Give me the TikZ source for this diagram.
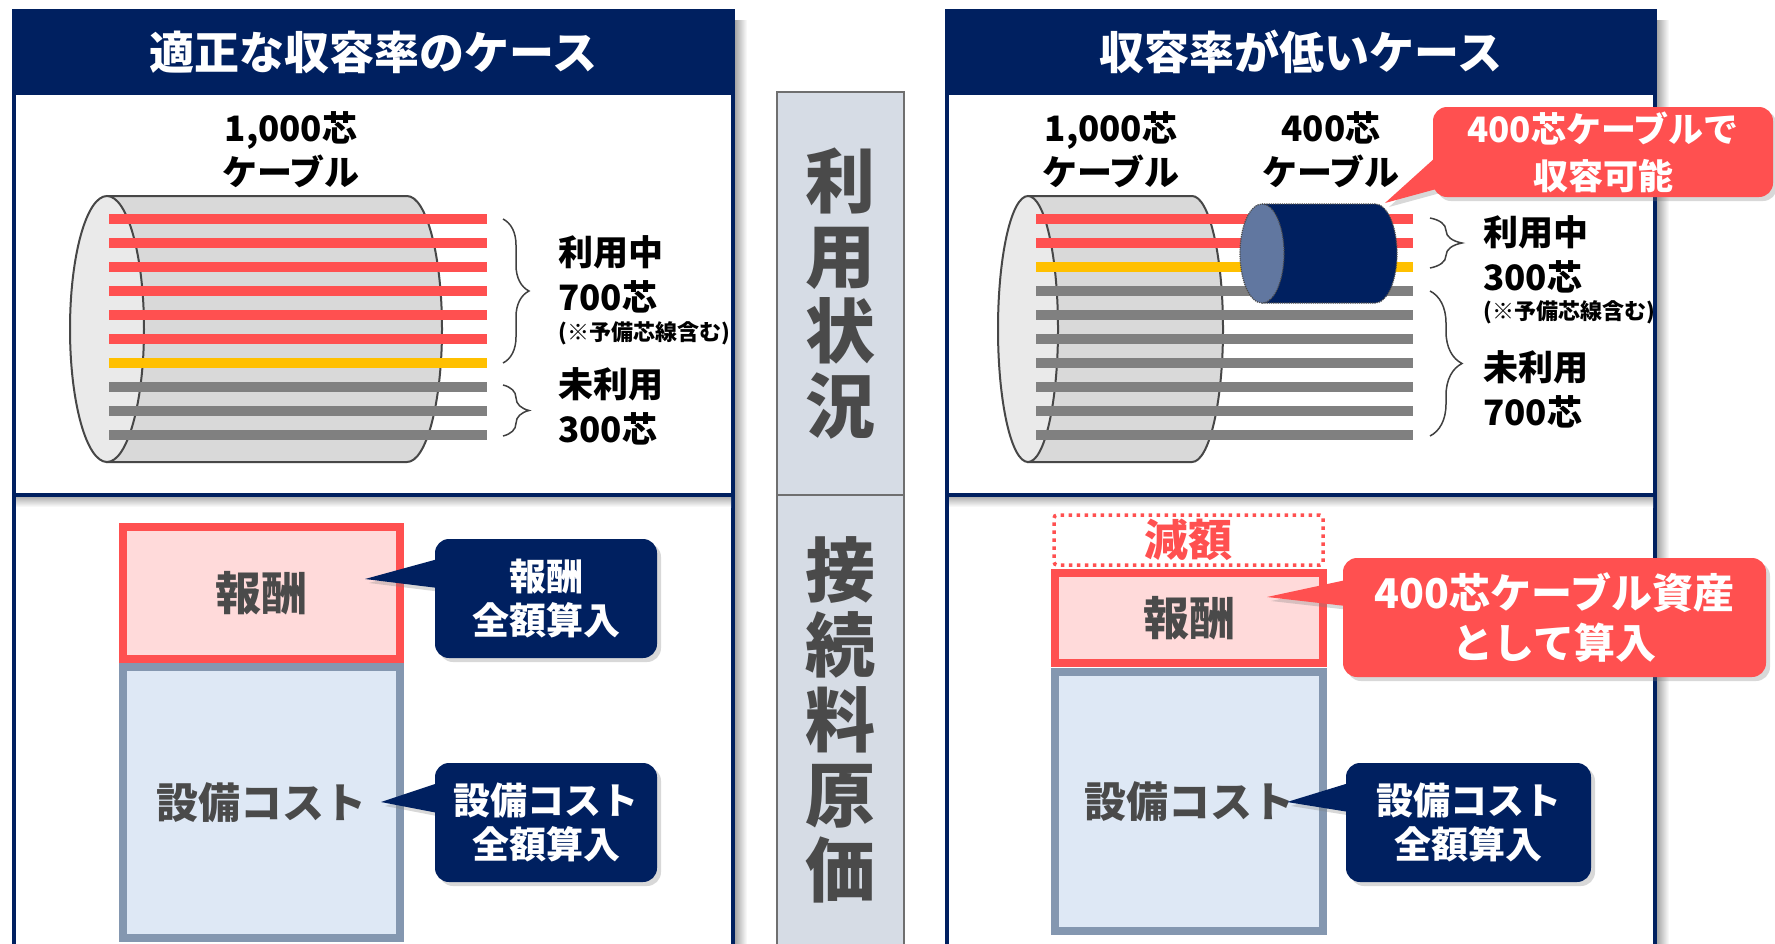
\documentclass[tikz,border=0pt]{standalone}
\usepackage{fontspec}
\setmainfont{Noto Sans CJK JP}
\usetikzlibrary{calc,shadows,decorations.pathreplacing}
\definecolor{panelnavy}{HTML}{002060}
\definecolor{alertred}{HTML}{FF5050}
\definecolor{rewardpink}{HTML}{FFDADA}
\definecolor{costblue}{HTML}{DEE8F5}
\definecolor{costedge}{HTML}{8497B0}
\definecolor{sparegold}{HTML}{FFC000}
\definecolor{idlegray}{HTML}{808080}
\definecolor{colfill}{HTML}{D6DCE5}
\definecolor{coledge}{HTML}{6F6F6F}
\definecolor{inkgray}{HTML}{4A4A4A}
\definecolor{sheathlight}{HTML}{EAEAEA}
\definecolor{sheathdark}{HTML}{D9D9D9}
\definecolor{sheathedge}{HTML}{474747}
\definecolor{facesteel}{HTML}{6177A0}

\begin{document}
\begin{tikzpicture}[
  x=1pt, y=-1pt,
  font=\bfseries,
  panelframe/.style={draw=panelnavy, line width=4pt, fill=white},
  paneltitle/.style={
    fill=panelnavy, text=white, inner sep=0pt,
    minimum width=723pt, minimum height=86pt,
    font=\fontsize{45pt}{50pt}\selectfont\bfseries
  },
  sidebar/.style={
    fill=colfill, draw=coledge, line width=2.5pt,
    minimum width=127pt, inner sep=0pt, align=center, text=inkgray,
    font=\fontsize{70pt}{75pt}\selectfont\bfseries
  },
  cablelabel/.style={align=center, inner sep=0pt, font=\fontsize{35pt}{44pt}\selectfont\bfseries},
  countlabel/.style={anchor=west, align=left, inner sep=0pt, font=\fontsize{35pt}{45pt}\selectfont\bfseries},
  notelabel/.style={anchor=west, inner sep=0pt, font=\fontsize{22pt}{26pt}\selectfont\bfseries},
  core/.style={line width=9.3pt},
  sheath/.style={draw=sheathedge, line width=2pt},
  bracket/.style={decorate, decoration={brace, amplitude=#1}, draw=black!75, line width=1.5pt},
  rewardbox/.style={
    fill=rewardpink, draw=alertred, line width=8pt, inner sep=0pt, text=inkgray,
    font=\fontsize{46pt}{50pt}\selectfont\bfseries
  },
  costbox/.style={
    fill=costblue, draw=costedge, line width=8pt, inner sep=0pt, text=inkgray,
    font=\fontsize{42pt}{46pt}\selectfont\bfseries
  },
  cutbox/.style={
    draw=alertred, line width=3.5pt, dash pattern=on 3.5pt off 4.5pt,
    rounded corners=3pt, inner sep=0pt, text=alertred,
    font=\fontsize{44pt}{48pt}\selectfont\bfseries
  },
  calloutshadow/.style={drop shadow={opacity=0.3, shadow xshift=4pt, shadow yshift=-4pt}},
  navycallout/.style={
    fill=panelnavy, text=white, rounded corners=14pt, align=center,
    inner sep=0pt, minimum height=119pt, calloutshadow,
    font=\fontsize{37pt}{44pt}\selectfont\bfseries
  },
  redcallout/.style={
    fill=alertred, text=white, rounded corners=14pt, align=center,
    inner sep=0pt, calloutshadow
  }
]
\useasboundingbox (0,0) rectangle (1775,943);
\fill[white] (0,0) rectangle (1775,943);

% --- panel frames ---
\shade[left color=black!35, right color=white] (735,20) rectangle (747,943);
\shade[left color=black!35, right color=white] (1657,20) rectangle (1669,943);
\draw[panelframe] (14,11) rectangle (733,990);
\draw[panelframe] (947,11) rectangle (1655,990);
\node[paneltitle] (lhead) at (373.5,52) {適正な収容率のケース};
\node[paneltitle, minimum width=712pt] (rhead) at (1301,52) {収容率が低いケース};

% section dividers
\shade[top color=black!30, bottom color=white] (16,497) rectangle (731,507);
\shade[top color=black!30, bottom color=white] (949,497) rectangle (1653,507);
\draw[panelnavy, line width=4pt] (14,495) -- (733,495);
\draw[panelnavy, line width=4pt] (947,495) -- (1655,495);

% --- middle column ---
\node[sidebar, minimum height=403pt] (usage) at (840.5,293.5) {利\\用\\状\\況};
\node[sidebar, minimum height=450pt] (costbasis) at (840.5,720) {接\\続\\料\\原\\価};

% --- left: 1,000 core cable ---
\filldraw[fill=sheathdark, sheath] (107,196) -- (407,196)
  arc[start angle=90, end angle=-90, x radius=35pt, y radius=133pt] -- (107,462) -- cycle;
\filldraw[fill=sheathlight, sheath] (107,329) ellipse[x radius=37pt, y radius=133pt];
\foreach \c [count=\i from 0] in {alertred,alertred,alertred,alertred,alertred,alertred,sparegold,idlegray,idlegray,idlegray}
  \draw[core, draw=\c] (109,{219+24*\i}) -- (487,{219+24*\i});

\node[cablelabel] (lcable) at (291,150) {1,000芯\\ケーブル};
\draw[bracket=26pt] (503,219) -- (503,363);
\draw[bracket=26pt] (503,385) -- (503,436);
\node[countlabel] (lused) at (558,274.5) {利用中\\700芯};
\node[notelabel] (lnote) at (558,333) {(※予備芯線含む)};
\node[countlabel] (lidle) at (558,406.5) {未利用\\300芯};

% --- right: 1,000 core cable with a 400 core one ---
\filldraw[fill=sheathdark, sheath] (1028,196) -- (1192,196)
  arc[start angle=90, end angle=-90, x radius=31pt, y radius=133pt] -- (1028,462) -- cycle;
\filldraw[fill=sheathlight, sheath] (1028,329) ellipse[x radius=30pt, y radius=133pt];
\foreach \c [count=\i from 0] in {alertred,alertred,sparegold,idlegray,idlegray,idlegray,idlegray,idlegray,idlegray,idlegray}
  \draw[core, draw=\c] (1036,{219+24*\i}) -- (1413,{219+24*\i});

\filldraw[fill=panelnavy, draw=black!70, densely dotted, line width=1.2pt] (1262,204) -- (1375,204)
  arc[start angle=90, end angle=-90, x radius=22pt, y radius=49.5pt] -- (1262,303) -- cycle;
\filldraw[fill=facesteel, draw=black!70, densely dotted, line width=1.2pt] (1262,253.5) ellipse[x radius=22pt, y radius=49.5pt];

\node[cablelabel] (rcable) at (1111,150) {1,000芯\\ケーブル};
\node[cablelabel] (ncable) at (1331,150) {400芯\\ケーブル};
\draw[bracket=32pt] (1430,218) -- (1430,268);
\draw[bracket=32pt] (1430,291) -- (1430,436);
\node[countlabel] (rused) at (1483,254) {利用中\\300芯};
\node[notelabel] (rnote) at (1483,312) {(※予備芯線含む)};
\node[countlabel] (ridle) at (1483,389) {未利用\\700芯};

% callout: 400 core fits
\coordinate (r1pos) at (1603,152);
\coordinate (r1tip) at (1385,203);
\fill[alertred, calloutshadow] ($(r1pos)+(-167,5)$) -- (r1tip) -- ($(r1pos)+(-163,36)$) -- cycle;
\node[redcallout, minimum width=340pt, minimum height=90pt,
  font=\fontsize{35pt}{47pt}\selectfont\bfseries] (r1) at (r1pos) {400芯ケーブルで\\収容可能};

% --- left: cost stack ---
\node[rewardbox, minimum width=277pt, minimum height=132pt] (lreward) at (261.5,593) {報酬};
\node[costbox, minimum width=277pt, minimum height=271pt] (lcost) at (261.5,802.5) {設備コスト};

\coordinate (c1pos) at (546,598.5);
\coordinate (c1tip) at (365,579);
\fill[panelnavy, calloutshadow] ($(c1pos)+(-108,-39.5)$) -- (c1tip) -- ($(c1pos)+(-108,-10.5)$) -- cycle;
\node[navycallout, minimum width=222pt] (c1) at (c1pos) {報酬\\全額算入};

\coordinate (c2pos) at (546,822.5);
\coordinate (c2tip) at (381,802);
\fill[panelnavy, calloutshadow] ($(c2pos)+(-108,-39.5)$) -- (c2tip) -- ($(c2pos)+(-108,-9.5)$) -- cycle;
\node[navycallout, minimum width=222pt] (c2) at (c2pos) {設備コスト\\全額算入};

% --- right: reduced cost stack ---
\node[cutbox, minimum width=269pt, minimum height=50pt] (rcut) at (1188.5,540) {減額};
\node[rewardbox, minimum width=268pt, minimum height=90pt] (rreward) at (1189,618) {報酬};
\node[costbox, minimum width=268pt, minimum height=259pt] (rcost) at (1189,801.5) {設備コスト};

\coordinate (r2pos) at (1554.5,617.5);
\coordinate (r2tip) at (1267,597);
\fill[alertred, calloutshadow] ($(r2pos)+(-208.5,-37.5)$) -- (r2tip) -- ($(r2pos)+(-208.5,-11.5)$) -- cycle;
\node[redcallout, minimum width=423pt, minimum height=119pt,
  font=\fontsize{41pt}{50pt}\selectfont\bfseries] (r2) at (r2pos) {400芯ケーブル資産\\として算入};

\coordinate (c3pos) at (1468.5,822.5);
\coordinate (c3tip) at (1287,802);
\fill[panelnavy, calloutshadow] ($(c3pos)+(-119.5,-39.5)$) -- (c3tip) -- ($(c3pos)+(-119.5,-10.5)$) -- cycle;
\node[navycallout, minimum width=245pt] (c3) at (c3pos) {設備コスト\\全額算入};
\end{tikzpicture}
\end{document}
